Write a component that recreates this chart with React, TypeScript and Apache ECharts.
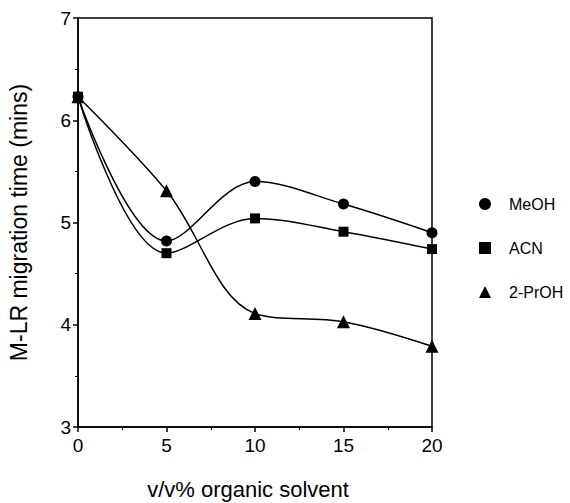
import React, { useEffect, useRef } from "react";
import * as echarts from "echarts";

const xValues = [0, 5, 10, 15, 20];
const meoh = [6.23, 4.82, 5.4, 5.18, 4.9];
const acn = [6.23, 4.7, 5.04, 4.91, 4.74];
const prop = [6.23, 5.31, 4.11, 4.03, 3.79];
const seriesNames = ["MeOH", "ACN", "2-PrOH"];

const FONT = "Liberation Sans";

export default function App() {
  const ref = useRef<HTMLDivElement>(null);
  useEffect(() => {
    if (!ref.current) return;
    const chart = echarts.init(ref.current, undefined, { renderer: "svg" });
    const mk = (vals: number[]) => xValues.map((x, i) => [x, vals[i]]);
    const symbols = ["circle", "rect", "triangle"];
    const sizes = [11, 10, 13];
    const datas = [meoh, acn, prop];
    chart.setOption({
      animation: false,
      backgroundColor: "#fff",
      textStyle: { fontFamily: FONT },
      grid: {
        left: 78,
        right: 138,
        top: 18,
        bottom: 76,
        show: true,
        borderColor: "#000",
        borderWidth: 1.5,
        outerBoundsMode: "none",
        containLabel: false,
      },
      legend: {
        orient: "vertical",
        left: 474,
        top: 191,
        itemGap: 28,
        itemWidth: 12,
        itemHeight: 12,
        textStyle: { fontFamily: FONT, fontSize: 16, color: "#000", padding: [0, 0, 0, 13] },
        data: seriesNames.map((n, i) => ({ name: n, icon: symbols[i] })),
      },
      xAxis: {
        type: "value",
        min: 0,
        max: 20,
        interval: 5,
        name: "v/v% organic solvent",
        nameLocation: "middle",
        nameGap: 51,
        nameTextStyle: { fontFamily: FONT, fontSize: 22, color: "#000", padding: [0, 14, 0, 0] },
        axisLine: { lineStyle: { color: "#000", width: 1.5 } },
        axisTick: { length: 5, lineStyle: { color: "#000", width: 1.5 } },
        minorTick: { show: true, splitNumber: 2, length: 3, lineStyle: { color: "#000" } },
        splitLine: { show: false },
        axisLabel: { fontFamily: FONT, fontSize: 19, color: "#000", margin: 9 },
      },
      yAxis: {
        type: "value",
        min: 3,
        max: 7,
        interval: 1,
        name: "M-LR migration time (mins)",
        nameLocation: "middle",
        nameGap: 48,
        nameTextStyle: { fontFamily: FONT, fontSize: 23, color: "#000" },
        axisLine: { lineStyle: { color: "#000", width: 1.5 } },
        axisTick: { length: 5, lineStyle: { color: "#000", width: 1.5 } },
        minorTick: { show: true, splitNumber: 2, length: 3, lineStyle: { color: "#000" } },
        splitLine: { show: false },
        axisLabel: { fontFamily: FONT, fontSize: 19, color: "#000", margin: 7 },
      },
      series: seriesNames.map((n, i) => ({
        name: n,
        type: "line",
        data: mk(datas[i]),
        smooth: 0.35,
        symbol: symbols[i],
        symbolSize: sizes[i],
        lineStyle: { color: "#000", width: 1.5 },
        itemStyle: { color: "#000" },
        z: 3 - i,
      })),
    });
    return () => chart.dispose();
  }, []);
  return (
    <div
      ref={ref}
      style={{ position: "absolute", left: 0, top: 0, width: 570, height: 503 }}
    />
  );
}
